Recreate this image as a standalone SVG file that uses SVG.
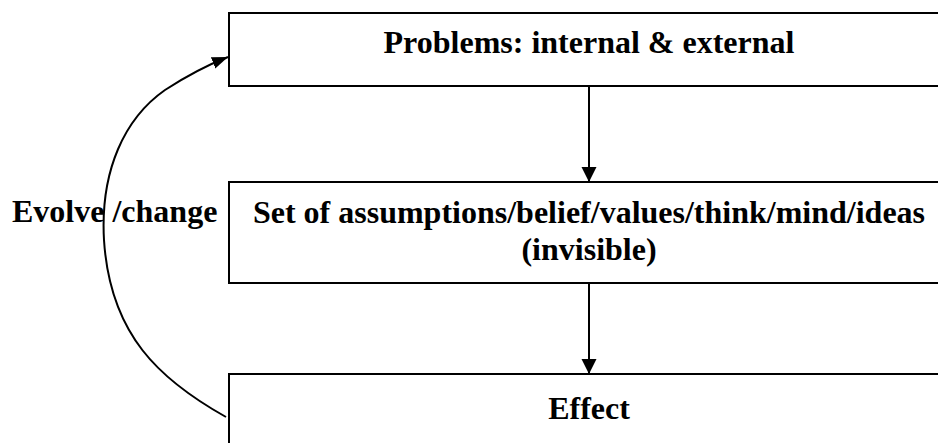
<svg xmlns="http://www.w3.org/2000/svg" width="938" height="443" viewBox="0 0 938 443" font-family="Liberation Serif, Times New Roman, serif">
  <defs>
    <style>
      .box { fill: #ffffff; stroke: #000000; stroke-width: 2; }
      .label { font-weight: bold; font-size: 32px; fill: #000000; }
      .mid { text-anchor: middle; }
      .link { fill: none; stroke: #000000; stroke-width: 2; }
    </style>
    <marker id="arrow" markerUnits="userSpaceOnUse" markerWidth="16" markerHeight="16" viewBox="0 0 16 16" refX="15" refY="8" orient="auto">
      <path d="M0,0.5 L15,8 L0,15.5 Z" fill="#000000"/>
    </marker>
    <marker id="arrow-sm" markerUnits="userSpaceOnUse" markerWidth="17" markerHeight="13" viewBox="0 0 17 13" refX="16" refY="6.5" orient="auto">
      <path d="M0,0.5 L16,6.5 L0,12.5 Z" fill="#000000"/>
    </marker>
  </defs>
  <rect width="938" height="443" fill="#ffffff"/>

  <g id="connectors">
    <line class="link" x1="589" y1="86" x2="589" y2="182" marker-end="url(#arrow)"/>
    <line class="link" x1="589" y1="283" x2="589" y2="374" marker-end="url(#arrow)"/>
    <path class="link" d="M226,417 C160,380 110,335 104,240 C100,170 125,118 165,90 C185,77 205,66 228,57" marker-end="url(#arrow-sm)"/>
  </g>

  <g id="problems">
    <rect class="box" x="229" y="13" width="740" height="73"/>
    <text class="label mid" x="589" y="53">Problems: internal &amp; external</text>
  </g>

  <g id="assumptions">
    <rect class="box" x="229" y="182" width="740" height="101"/>
    <text class="label mid" x="589" y="223">Set of assumptions/belief/values/think/mind/ideas</text>
    <text class="label mid" x="589" y="260">(invisible)</text>
  </g>

  <g id="effect">
    <rect class="box" x="229" y="374" width="740" height="100"/>
    <text class="label mid" x="589" y="419">Effect</text>
  </g>

  <g id="evolve-label">
    <text class="label" x="12" y="222">Evolve /change</text>
  </g>
</svg>
